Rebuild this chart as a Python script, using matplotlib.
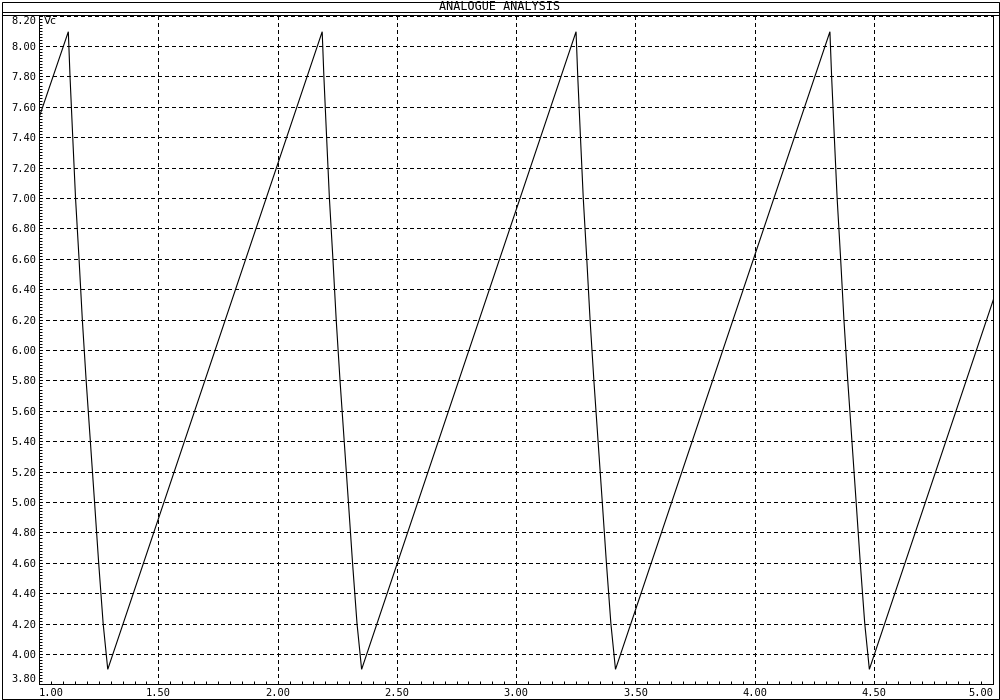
import matplotlib
matplotlib.use("Agg")
import matplotlib.pyplot as plt
from matplotlib.ticker import MultipleLocator, FixedLocator
from matplotlib.lines import Line2D
from matplotlib.patches import Rectangle

# ---- data (time, Vc) ----
t = [1.000,
     1.1225, 1.1296, 1.1410, 1.1527, 1.1674, 1.1812, 1.1972, 1.2148, 1.2324, 1.2497, 1.2685, 1.2878,
     2.1867, 2.1938, 2.2052, 2.2169, 2.2316, 2.2454, 2.2614, 2.2790, 2.2966, 2.3139, 2.3327, 2.3520,
     3.2509, 3.2580, 3.2694, 3.2811, 3.2958, 3.3096, 3.3256, 3.3432, 3.3608, 3.3781, 3.3969, 3.4162,
     4.3151, 4.3222, 4.3336, 4.3453, 4.3600, 4.3738, 4.3898, 4.4074, 4.4250, 4.4423, 4.4611, 4.4804,
     5.000]
vc = [7.53,
      8.094, 7.80, 7.40, 7.00, 6.60, 6.20, 5.80, 5.40, 5.00, 4.60, 4.20, 3.899,
      8.094, 7.80, 7.40, 7.00, 6.60, 6.20, 5.80, 5.40, 5.00, 4.60, 4.20, 3.899,
      8.094, 7.80, 7.40, 7.00, 6.60, 6.20, 5.80, 5.40, 5.00, 4.60, 4.20, 3.899,
      8.094, 7.80, 7.40, 7.00, 6.60, 6.20, 5.80, 5.40, 5.00, 4.60, 4.20, 3.899,
      6.33]

x_ticks = [1.00, 1.50, 2.00, 2.50, 3.00, 3.50, 4.00, 4.50, 5.00]
x_tick_labels = ["1.00", "1.50", "2.00", "2.50", "3.00", "3.50", "4.00", "4.50", "5.00"]
y_ticks = [3.80 + 0.2 * i for i in range(23)]
y_tick_labels = ["%.2f" % v for v in y_ticks]
title = "ANALOGUE ANALYSIS"
trace_name = "Vc"

W, H = 1000, 700
fig = plt.figure(figsize=(10, 7), dpi=100)
fig.patch.set_facecolor("white")

px = 0.72  # 1 pixel in points
left, right = 39.1, 993.3
top, bottom = 14.7, 684.4
ax = fig.add_axes([left / W, 1 - bottom / H, (right - left) / W, (bottom - top) / H])
ax.set_xlim(1.0, 5.0)
ax.set_ylim(3.80, 8.206)

ax.plot(t, vc, color="black", lw=0.8, antialiased=True, solid_joinstyle="miter")

ax.xaxis.set_major_locator(FixedLocator(x_ticks))
ax.set_xticks(x_ticks)
ax.set_xticklabels(x_tick_labels)
ax.set_yticks(y_ticks)
ax.set_yticklabels(y_tick_labels)
ax.xaxis.set_minor_locator(MultipleLocator(0.05))
ax.yaxis.set_minor_locator(MultipleLocator(0.02))

ax.tick_params(axis="both", which="both", direction="in", length=2.4, width=px,
               color="black", labelsize=7.5, labelcolor="black")
ax.tick_params(axis="x", which="major", pad=2.6)
ax.tick_params(axis="y", which="major", pad=1.8)
ax.tick_params(top=False, right=False, which="both")

for lab in ax.get_xticklabels():
    lab.set_family("DejaVu Sans Mono")
for lab in ax.get_yticklabels():
    lab.set_family("DejaVu Sans Mono")
xl = ax.get_xticklabels()
xl[0].set_horizontalalignment("left")
xl[-1].set_horizontalalignment("right")
yl = ax.get_yticklabels()
yl[0].set_verticalalignment("bottom")
yl[-1].set_verticalalignment("top")

ax.grid(True, which="major", color="black", lw=px, linestyle=(0, (4, 3)), antialiased=False)
ax.set_axisbelow(True)

for s in ax.spines.values():
    s.set_linewidth(px)
    s.set_color("black")
ax.spines["top"].set_visible(False)

ax.text(0.005, 1 - (20.5 - top) / (bottom - top), trace_name,
        transform=ax.transAxes, fontsize=7.5, family="DejaVu Sans", va="center", ha="left")

# figure frame and title bar
fig.add_artist(Rectangle((1.5 / W, 1.5 / H), 997 / W, 697 / H, transform=fig.transFigure,
                         fill=False, edgecolor="black", lw=px))
for yy in (12.3, 14.7):
    fig.add_artist(Line2D([1.5 / W, 998.5 / W], [1 - yy / H, 1 - yy / H],
                          transform=fig.transFigure, color="black", lw=px))
fig.text(0.5, 1 - 6.8 / H, title, ha="center", va="center", fontsize=8.5,
         family="DejaVu Sans Mono")

fig.savefig("out.png", dpi=100)
